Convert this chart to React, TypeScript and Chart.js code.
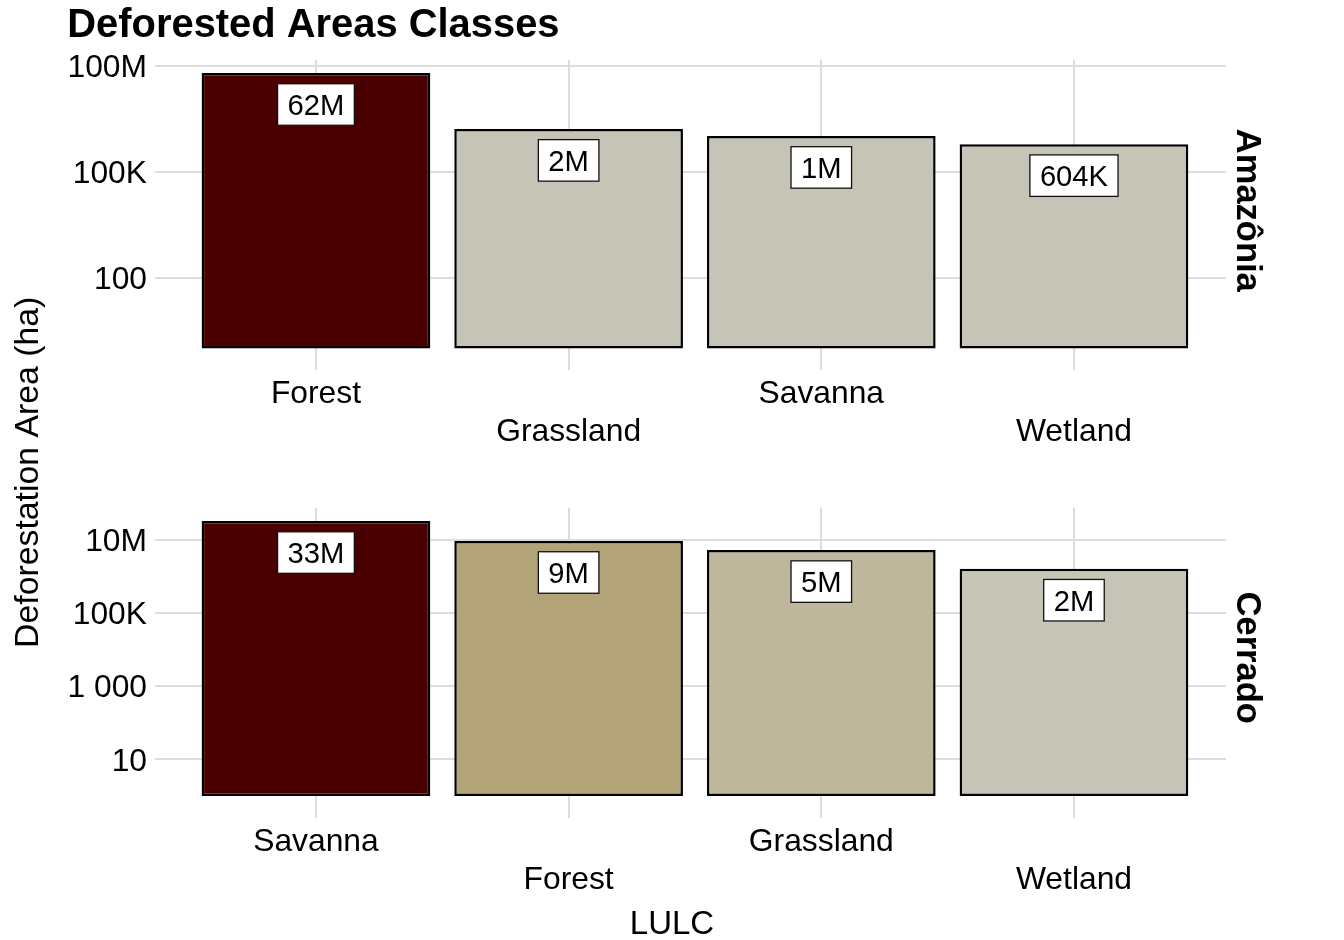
import React, { useEffect, useRef } from 'react';
import { Chart, registerables } from 'chart.js';

Chart.register(...registerables);

// ---------- data ----------
const chartTitle = 'Deforested Areas Classes';
const xAxisTitle = 'LULC';
const yAxisTitle = 'Deforestation Area (ha)';

const topFacet = 'Amazônia';
const topCategories = ['Forest', 'Grassland', 'Savanna', 'Wetland'];
const topValues = [62000000, 1630000, 1030000, 604000];
const topColors = ['#4B0000', '#C6C4B6', '#C6C4B6', '#C6C4B6'];
const topTickValues = [100, 100000, 100000000];
const topTickLabels = ['100', '100K', '100M'];

const bottomFacet = 'Cerrado';
const bottomCategories = ['Savanna', 'Forest', 'Grassland', 'Wetland'];
const bottomValues = [33000000, 9400000, 5300000, 1640000];
const bottomColors = ['#4B0000', '#B3A378', '#BEB79B', '#C6C4B6'];
const bottomTickValues = [10, 1000, 100000, 10000000];
const bottomTickLabels = ['10', '1 000', '100K', '10M'];

// ---------- style / layout ----------
const W = 1344;
const H = 940;
const FONT = '"Liberation Sans", Arial, Helvetica, sans-serif';
const GRID = '#DCDCDC';
const PANEL_LEFT = 155;
const PANEL_RIGHT = 1226;
const TICK_SIZE = 31.8;

function fmtValue(v: number): string {
  if (v >= 1e6) return Math.round(v / 1e6) + 'M';
  if (v >= 1e3) return Math.round(v / 1e3) + 'K';
  return String(Math.round(v));
}

interface PanelSpec {
  categories: string[];
  values: number[];
  colors: string[];
  tickValues: number[];
  tickLabels: string[];
  facet: string;
  areaTop: number;
  areaBottom: number;
  yMin: number;
  yMax: number;
  stripY: number;
  drawGlobal: boolean;
}

function makeChart(canvas: HTMLCanvasElement, p: PanelSpec): Chart {
  const labelPlugin = {
    id: 'barLabels',
    afterDatasetsDraw(chart: any) {
      const ctx = chart.ctx as CanvasRenderingContext2D;
      const meta = chart.getDatasetMeta(0);
      ctx.save();
      const fs = 29.2;
      ctx.font = `${fs}px ${FONT}`;
      meta.data.forEach((bar: any, i: number) => {
        const text = fmtValue(p.values[i]);
        const tw = ctx.measureText(text).width;
        const cx = bar.x;
        const cy = bar.y + 31.5;
        const w = tw + 20;
        const h = 41.5;
        ctx.fillStyle = '#ffffff';
        ctx.fillRect(cx - w / 2, cy - h / 2, w, h);
        ctx.strokeStyle = '#111111';
        ctx.lineWidth = 1.3;
        ctx.strokeRect(cx - w / 2, cy - h / 2, w, h);
        ctx.fillStyle = '#000000';
        ctx.textAlign = 'center';
        ctx.textBaseline = 'alphabetic';
        ctx.fillText(text, cx, cy + (0.716 * fs) / 2);
      });
      ctx.restore();
    },
  };

  const textPlugin = {
    id: 'panelTexts',
    afterDraw(chart: any) {
      const ctx = chart.ctx as CanvasRenderingContext2D;
      ctx.save();
      ctx.fillStyle = '#000000';
      // strip label (right side, rotated clockwise)
      ctx.save();
      ctx.translate(1237, p.stripY);
      ctx.rotate(Math.PI / 2);
      ctx.font = `bold 34.5px ${FONT}`;
      ctx.textAlign = 'center';
      ctx.textBaseline = 'alphabetic';
      ctx.fillText(p.facet, 0, 0);
      ctx.restore();

      if (p.drawGlobal) {
        // title
        ctx.font = `bold 39.9px ${FONT}`;
        ctx.textAlign = 'left';
        ctx.textBaseline = 'alphabetic';
        ctx.fillText(chartTitle, 67.3, 37.3);
        // y axis title
        ctx.save();
        ctx.translate(37.7, 472.3);
        ctx.rotate(-Math.PI / 2);
        ctx.font = `33.8px ${FONT}`;
        ctx.textAlign = 'center';
        ctx.fillText(yAxisTitle, 0, 0);
        ctx.restore();
        // x axis title
        ctx.font = `33px ${FONT}`;
        ctx.textAlign = 'center';
        ctx.fillText(xAxisTitle, 672, 934.3);
      }
      ctx.restore();
    },
  };

  const n = p.categories.length;

  return new Chart(canvas, {
    type: 'bar',
    data: {
      datasets: [
        {
          data: p.values.map((v, i) => ({ x: i + 1, y: v })),
          backgroundColor: p.colors,
          borderColor: '#000000',
          borderWidth: 2.5,
          borderSkipped: false,
          base: 1,
          barPercentage: 0.905,
          categoryPercentage: 1,
        } as any,
      ],
    },
    options: {
      responsive: false,
      animation: false,
      devicePixelRatio: 1,
      layout: {
        padding: { top: p.areaTop, left: 0, right: W - PANEL_RIGHT, bottom: 0 },
      },
      plugins: {
        legend: { display: false },
        tooltip: { enabled: false },
        title: { display: false },
      },
      scales: {
        x: {
          type: 'linear',
          min: 0.363,
          max: 0.363 + (PANEL_RIGHT - PANEL_LEFT) / 252.67,
          offset: false,
          afterBuildTicks: (s: any) => {
            s.ticks = p.categories.map((_, i) => ({ value: i + 1 }));
          },
          afterFit: (s: any) => {
            s.height = H - p.areaBottom;
          },
          grid: { color: GRID, lineWidth: 2, drawTicks: false, offset: false },
          border: { display: false },
          ticks: {
            autoSkip: false,
            maxRotation: 0,
            minRotation: 0,
            padding: 5,
            color: '#000000',
            font: { family: FONT, size: TICK_SIZE, lineHeight: 38 / TICK_SIZE },
            callback: (v: any) => {
              const i = Math.round(Number(v)) - 1;
              if (i < 0 || i >= n) return '';
              const name = p.categories[i];
              return i % 2 === 1 ? ['', name] : name;
            },
          },
        },
        y: {
          type: 'logarithmic',
          min: p.yMin,
          max: p.yMax,
          afterBuildTicks: (s: any) => {
            s.ticks = p.tickValues.map((v) => ({ value: v }));
          },
          afterFit: (s: any) => {
            s.width = PANEL_LEFT;
          },
          grid: { color: GRID, lineWidth: 2, drawTicks: false },
          border: { display: false },
          ticks: {
            padding: 8,
            labelOffset: 2.5,
            color: '#000000',
            font: { family: FONT, size: TICK_SIZE },
            callback: (v: any) => {
              const idx = p.tickValues.findIndex((t) => Math.abs(t - Number(v)) / t < 1e-6);
              return idx >= 0 ? p.tickLabels[idx] : '';
            },
          },
        },
      } as any,
    },
    plugins: [labelPlugin, textPlugin],
  } as any);
}

export default function App() {
  const topRef = useRef<HTMLCanvasElement | null>(null);
  const botRef = useRef<HTMLCanvasElement | null>(null);

  useEffect(() => {
    Chart.defaults.font.family = FONT;
    const top = makeChart(topRef.current as HTMLCanvasElement, {
      categories: topCategories,
      values: topValues,
      colors: topColors,
      tickValues: topTickValues,
      tickLabels: topTickLabels,
      facet: topFacet,
      areaTop: 60,
      areaBottom: 370,
      yMin: Math.pow(10, -0.605),
      yMax: Math.pow(10, 8.16),
      stripY: 210.3,
      drawGlobal: true,
    });
    const bottom = makeChart(botRef.current as HTMLCanvasElement, {
      categories: bottomCategories,
      values: bottomValues,
      colors: bottomColors,
      tickValues: bottomTickValues,
      tickLabels: bottomTickLabels,
      facet: bottomFacet,
      areaTop: 507.7,
      areaBottom: 818,
      yMin: Math.pow(10, -0.605),
      yMax: Math.pow(10, 7.884),
      stripY: 657.7,
      drawGlobal: false,
    });
    return () => {
      top.destroy();
      bottom.destroy();
    };
  }, []);

  const canvasStyle: React.CSSProperties = {
    position: 'absolute',
    left: 0,
    top: 0,
    width: W,
    height: H,
  };

  return (
    <div style={{ position: 'absolute', left: 0, top: 0, width: W, height: H, background: '#ffffff' }}>
      <canvas ref={topRef} width={W} height={H} style={canvasStyle} />
      <canvas ref={botRef} width={W} height={H} style={canvasStyle} />
    </div>
  );
}
